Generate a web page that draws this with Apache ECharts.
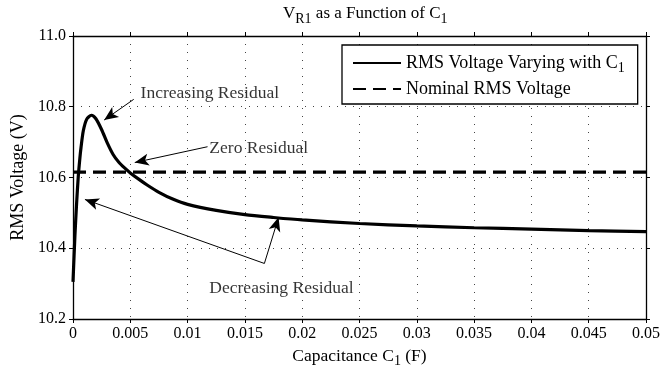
<!DOCTYPE html>
<html>
<head>
<meta charset="utf-8">
<script src="https://cdn.jsdelivr.net/npm/echarts@6/dist/echarts.min.js"></script>
<style>
html,body{margin:0;padding:0;background:#fff;}
#chart{width:663px;height:379px;}
</style>
</head>
<body>
<div id="chart"></div>
<script>
// ---- data ----
var capacitance = [0, 0.00017, 0.00032, 0.00046, 0.0006, 0.0007, 0.0009, 0.0012, 0.0016, 0.002, 0.0025, 0.003, 0.0035, 0.004, 0.0045, 0.005, 0.0057, 0.0065, 0.0075, 0.0087, 0.01, 0.0125, 0.015, 0.0175, 0.02, 0.025, 0.03, 0.035, 0.04, 0.045, 0.05];
var rmsVoltage  = [10.305, 10.437, 10.530, 10.603, 10.655, 10.685, 10.732, 10.765, 10.776, 10.766, 10.735, 10.697, 10.665, 10.643, 10.627, 10.613, 10.596, 10.578, 10.558, 10.539, 10.524, 10.507, 10.495, 10.487, 10.480, 10.470, 10.463, 10.458, 10.454, 10.450, 10.447];
var nominalVoltage = 10.615;
var xTickLabels = ['0','0.005','0.01','0.015','0.02','0.025','0.03','0.035','0.04','0.045','0.05'];
var yTickLabels = ['10.2','10.4','10.6','10.8','11.0'];
var seriesNames = ['RMS Voltage Varying with C1', 'Nominal RMS Voltage'];

// annotations (data coordinates)
var annoTexts = ['Increasing Residual', 'Zero Residual', 'Decreasing Residual'];
var annoTextPos = [[0.0059, 10.839], [0.0119, 10.683], [0.0119, 10.287]];
var annoArrows = [
  [[0.0053, 10.821], [0.00272, 10.7625]],
  [[0.01174, 10.687], [0.00539, 10.6424]],
  [[0.0167, 10.357], [0.00104, 10.538]],
  [[0.0167, 10.357], [0.01794, 10.4875]]
];

var FONT = 'Liberation Serif';
var curve = capacitance.map(function (c, i) { return [c, rmsVoltage[i]]; });

var chart = echarts.init(document.getElementById('chart'));
var axisCommon = {
  axisLine: {show: true, onZero: false, lineStyle: {color: '#000', width: 1.3}},
  axisTick: {show: true, inside: false, length: 4, lineStyle: {color: '#000', width: 1}}
};
var splitDots = {show: true, lineStyle: {color: '#444', width: 1, type: [1, 7]}};

chart.setOption({
  animation: false,
  backgroundColor: '#fff',
  title: {
    text: 'V{sub|R1} as a Function of C{sub|1}',
    left: 278, top: -4,
    textStyle: {
      fontFamily: FONT, fontSize: 17, fontWeight: 'normal', color: '#000',
      rich: {sub: {fontFamily: FONT, fontSize: 14, color: '#000', padding: [11, 0, 0, 0]}}
    }
  },
  grid: {left: 73, right: 15, top: 36, bottom: 60},
  legend: {
    orient: 'vertical',
    left: 342, top: 45,
    data: seriesNames,
    itemWidth: 48, itemHeight: 14, itemGap: 5,
    padding: [9, 13, 6, 10],
    borderColor: '#000', borderWidth: 1.3,
    backgroundColor: '#fff',
    itemStyle: {opacity: 0},
    formatter: function (n) { return n === seriesNames[0] ? 'RMS Voltage Varying with C{sub|1}' : n; },
    textStyle: {
      fontFamily: FONT, fontSize: 18, color: '#000', padding: [0, 0, 0, 0],
      rich: {sub: {fontFamily: FONT, fontSize: 14, color: '#000', padding: [10, 0, 0, 0]}}
    }
  },
  xAxis: [
    Object.assign({
      type: 'value', position: 'bottom', min: 0, max: 0.05, interval: 0.005,
      name: 'Capacitance C{sub|1} (F)', nameLocation: 'middle', nameGap: 25,
      nameTextStyle: {fontFamily: FONT, fontSize: 17.5, color: '#000',
        rich: {sub: {fontFamily: FONT, fontSize: 14, color: '#000', padding: [10, 0, 0, 0]}}},
      axisLabel: {fontFamily: FONT, fontSize: 16, color: '#000', margin: 7,
        formatter: function (v) { return xTickLabels[Math.round(v / 0.005)]; }},
      splitLine: splitDots
    }, axisCommon),
    Object.assign({
      type: 'value', position: 'top', min: 0, max: 0.05, interval: 0.005,
      axisLabel: {show: false}, splitLine: {show: false}
    }, axisCommon)
  ],
  yAxis: [
    Object.assign({
      type: 'value', position: 'left', min: 10.2, max: 11.0, interval: 0.2,
      name: 'RMS Voltage (V)', nameLocation: 'middle', nameGap: 38,
      nameTextStyle: {fontFamily: FONT, fontSize: 18, color: '#000'},
      axisLabel: {fontFamily: FONT, fontSize: 16, color: '#000', margin: 7,
        formatter: function (v) { return yTickLabels[Math.round((v - 10.2) / 0.2)]; }},
      splitLine: splitDots
    }, axisCommon),
    Object.assign({
      type: 'value', position: 'right', min: 10.2, max: 11.0, interval: 0.2,
      axisLabel: {show: false}, splitLine: {show: false}
    }, axisCommon)
  ],
  series: [
    {
      name: seriesNames[0], type: 'line', data: curve,
      showSymbol: false, symbol: 'none', smooth: 0.25,
      lineStyle: {color: '#000', width: 3.2}, itemStyle: {color: '#000'}, z: 5
    },
    {
      name: seriesNames[1], type: 'line',
      data: [[0, nominalVoltage], [0.05, nominalVoltage]],
      showSymbol: false, symbol: 'none',
      lineStyle: {color: '#000', width: 3.2, type: [13, 7]}, itemStyle: {color: '#000'}, z: 4
    },
    {
      name: 'annotations', type: 'scatter', symbolSize: 0, silent: true,
      data: annoTexts.map(function (t, i) { return {value: annoTextPos[i], name: t}; }),
      label: {show: true, position: 'right', distance: 0,
        formatter: function (p) { return p.name; },
        fontFamily: FONT, fontSize: 17.5, color: '#000'},
      markLine: {
        silent: true, animation: false,
        symbol: ['none', 'arrow'], symbolSize: [9, 14],
        lineStyle: {color: '#000', width: 1, type: 'solid'},
        label: {show: false},
        data: annoArrows.map(function (a) {
          return [{coord: a[0], symbol: 'none'}, {coord: a[1], symbol: 'arrow'}];
        })
      },
      z: 6
    }
  ]
});
</script>
</body>
</html>
